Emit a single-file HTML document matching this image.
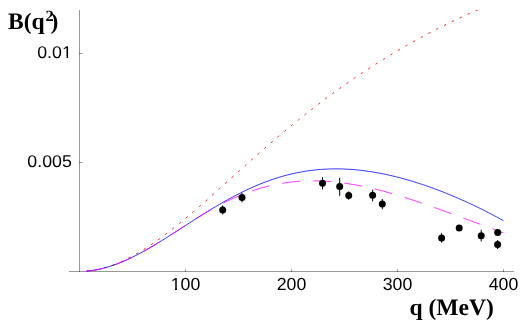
<!DOCTYPE html>
<html><head><meta charset="utf-8"><title>B(q^2)</title>
<style>
html,body{margin:0;padding:0;background:#fff;}
#w{width:526px;height:327px;overflow:hidden;will-change:transform;}
svg{display:block;}
.tk{font-family:"Liberation Sans",sans-serif;font-size:17px;fill:#000;text-rendering:geometricPrecision;}
.lb{font-family:"Liberation Serif",serif;font-weight:bold;font-size:23.6px;fill:#000;text-rendering:geometricPrecision;}
</style></head><body>
<div id="w"><svg width="526" height="327" viewBox="0 0 526 327">
<defs><clipPath id="cp"><rect x="60" y="10" width="460" height="270"/></clipPath></defs>
<rect width="526" height="327" fill="#fff"/>
<g stroke="#000" stroke-opacity="0.4" stroke-width="1">
<line x1="69" y1="271.5" x2="514" y2="271.5"/>
<line x1="79.5" y1="10" x2="79.5" y2="272"/>
<line x1="185.5" y1="272" x2="185.5" y2="269.15"/>
<line x1="291.5" y1="272" x2="291.5" y2="269.15"/>
<line x1="397.5" y1="272" x2="397.5" y2="269.15"/>
<line x1="503.5" y1="272" x2="503.5" y2="269.15"/>
<line x1="79" y1="162.5" x2="82.6" y2="162.5"/>
<line x1="79" y1="53.5" x2="82.6" y2="53.5"/>
</g>
<text transform="translate(185.5 290.4) scale(1.012 1)" text-anchor="middle" class="tk" style="font-size:17.5px">100</text>
<text transform="translate(291.5 290.4) scale(1.012 1)" text-anchor="middle" class="tk" style="font-size:17.5px">200</text>
<text transform="translate(397.5 290.4) scale(1.012 1)" text-anchor="middle" class="tk" style="font-size:17.5px">300</text>
<text transform="translate(503.5 290.4) scale(1.012 1)" text-anchor="middle" class="tk" style="font-size:17.5px">400</text>
<text transform="translate(71.8 167.2) scale(1.045 1)" text-anchor="end" class="tk">0.005</text>
<text transform="translate(71.8 58.2) scale(1.045 1)" text-anchor="end" class="tk">0.01</text>
<rect x="169.00" y="288" width="6.00" height="2" fill="#fff"/><rect x="177.00" y="288" width="4.00" height="2" fill="#fff"/>
<rect x="60.00" y="56" width="6.48" height="2" fill="#fff"/><rect x="68.04" y="56" width="3.96" height="2" fill="#fff"/>

<path d="M86.0 271.15L88.8 270.88L91.7 270.52L94.5 270.07L97.3 269.53L100.2 268.90L103.0 268.19L105.8 267.39L108.7 266.50L111.5 265.54L114.3 264.49L117.2 263.37L120.0 262.17L122.8 260.90L125.7 259.56L128.5 258.14L131.4 256.66L134.2 255.12L137.0 253.51L139.9 251.84L142.7 250.11L145.5 248.33L148.4 246.49L151.2 244.60L154.0 242.65L156.9 240.66L159.7 238.63L162.5 236.55L165.4 234.43L168.2 232.27L171.0 230.07L173.9 227.84L176.7 225.57L179.5 223.28L182.4 220.95L185.2 218.60L188.0 216.22L190.9 213.82L193.7 211.39L196.5 208.95L199.4 206.49L202.2 204.01L205.1 201.52L207.9 199.01L210.7 196.49L213.6 193.97L216.4 191.43L219.2 188.89L222.1 186.35L224.9 183.80L227.7 181.24L230.6 178.69L233.4 176.14L236.2 173.59L239.1 171.04L241.9 168.49L244.7 165.95L247.6 163.42L250.4 160.89L253.2 158.37L256.1 155.86L258.9 153.35L261.7 150.86L264.6 148.38L267.4 145.92L270.2 143.46L273.1 141.02L275.9 138.59L278.7 136.17L281.6 133.78L284.4 131.39L287.3 129.02L290.1 126.67L292.9 124.34L295.8 122.02L298.6 119.72L301.4 117.44L304.3 115.17L307.1 112.93L309.9 110.70L312.8 108.49L315.6 106.29L318.4 104.12L321.3 101.97L324.1 99.83L326.9 97.71L329.8 95.61L332.6 93.53L335.4 91.47L338.3 89.43L341.1 87.41L343.9 85.40L346.8 83.42L349.6 81.45L352.4 79.50L355.3 77.56L358.1 75.65L360.9 73.75L363.8 71.87L366.6 70.01L369.5 68.17L372.3 66.34L375.1 64.53L378.0 62.74L380.8 60.96L383.6 59.20L386.5 57.46L389.3 55.73L392.1 54.02L395.0 52.32L397.8 50.64L400.6 48.98L403.5 47.33L406.3 45.70L409.1 44.09L412.0 42.48L414.8 40.90L417.6 39.33L420.5 37.78L423.3 36.24L426.1 34.71L429.0 33.21L431.8 31.71L434.6 30.24L437.5 28.78L440.3 27.33L443.2 25.91L446.0 24.49L448.8 23.10L451.7 21.72L454.5 20.36L457.3 19.02L460.2 17.69L463.0 16.38L465.8 15.09L468.7 13.82L471.5 12.57L474.3 11.34L477.2 10.13L480.0 8.94" fill="none" stroke="#f00" stroke-width="0.9" stroke-dasharray="2.3 6.44" stroke-dashoffset="-1.06" clip-path="url(#cp)"/>
<path d="M86.0 271.16L89.0 270.88L92.0 270.51L95.0 270.04L98.0 269.48L101.0 268.82L104.0 268.08L107.0 267.24L110.0 266.33L113.0 265.33L116.0 264.25L119.0 263.10L122.0 261.88L125.0 260.59L128.1 259.23L131.1 257.82L134.1 256.34L137.1 254.81L140.1 253.23L143.1 251.61L146.1 249.93L149.1 248.22L152.1 246.47L155.1 244.69L158.1 242.87L161.1 241.03L164.1 239.17L167.1 237.29L170.1 235.38L173.1 233.47L176.1 231.55L179.1 229.61L182.1 227.68L185.1 225.74L188.1 223.80L191.1 221.87L194.1 219.95L197.1 218.04L200.1 216.13L203.1 214.25L206.1 212.38L209.1 210.53L212.2 208.71L215.2 206.90L218.2 205.13L221.2 203.38L224.2 201.66L227.2 199.98L230.2 198.33L233.2 196.71L236.2 195.14L239.2 193.60L242.2 192.10L245.2 190.64L248.2 189.22L251.2 187.85L254.2 186.52L257.2 185.24L260.2 184.00L263.2 182.81L266.2 181.66L269.2 180.57L272.2 179.52L275.2 178.52L278.2 177.57L281.2 176.67L284.2 175.82L287.2 175.02L290.2 174.27L293.2 173.57L296.3 172.92L299.3 172.32L302.3 171.77L305.3 171.27L308.3 170.81L311.3 170.41L314.3 170.05L317.3 169.74L320.3 169.48L323.3 169.27L326.3 169.10L329.3 168.98L332.3 168.91L335.3 168.87L338.3 168.89L341.3 168.94L344.3 169.04L347.3 169.19L350.3 169.37L353.3 169.59L356.3 169.86L359.3 170.16L362.3 170.50L365.3 170.88L368.3 171.30L371.3 171.76L374.3 172.25L377.3 172.77L380.4 173.33L383.4 173.93L386.4 174.56L389.4 175.22L392.4 175.91L395.4 176.64L398.4 177.39L401.4 178.18L404.4 178.99L407.4 179.84L410.4 180.72L413.4 181.62L416.4 182.55L419.4 183.51L422.4 184.50L425.4 185.51L428.4 186.56L431.4 187.62L434.4 188.72L437.4 189.84L440.4 190.99L443.4 192.16L446.4 193.36L449.4 194.58L452.4 195.83L455.4 197.10L458.4 198.40L461.4 199.72L464.5 201.06L467.5 202.44L470.5 203.83L473.5 205.25L476.5 206.69L479.5 208.16L482.5 209.65L485.5 211.16L488.5 212.70L491.5 214.25L494.5 215.83L497.5 217.44L500.5 219.06L503.5 220.70" fill="none" stroke="#00f" stroke-width="0.8"/>
<path d="M86.0 271.16L89.0 270.88L92.0 270.51L95.0 270.04L98.0 269.48L101.0 268.82L104.0 268.08L107.0 267.24L110.0 266.33L113.0 265.33L116.0 264.25L119.0 263.10L122.0 261.88L125.0 260.59L128.1 259.23L131.1 257.82L134.1 256.34L137.1 254.81L140.1 253.23L143.1 251.61L146.1 249.93L149.1 248.22L152.1 246.47L155.1 244.69L158.1 242.87L161.1 241.03L164.1 239.17L167.1 237.29L170.1 235.38L173.1 233.47L176.1 231.55L179.1 229.61L182.1 227.68L185.1 225.74L188.1 223.80L191.1 221.87L194.1 219.95L197.1 218.03L200.1 216.12L203.1 214.23L206.1 212.39L209.1 210.63L212.2 208.93L215.2 207.31L218.2 205.74L221.2 204.18L224.2 202.66L227.2 201.19L230.2 199.77L233.2 198.39L236.2 197.06L239.2 195.79L242.2 194.56L245.2 193.39L248.2 192.27L251.2 191.20L254.2 190.19L257.2 189.23L260.2 188.32L263.2 187.47L266.2 186.67L269.2 185.93L272.2 185.24L275.2 184.60L278.2 184.01L281.2 183.47L284.2 182.99L287.2 182.56L290.2 182.18L293.2 181.85L296.3 181.56L299.3 181.33L302.3 181.14L305.3 181.01L308.3 180.91L311.3 180.87L314.3 180.86L317.3 180.90L320.3 180.99L323.3 181.12L326.3 181.28L329.3 181.49L332.3 181.74L335.3 182.03L338.3 182.35L341.3 182.72L344.3 183.11L347.3 183.55L350.3 184.02L353.3 184.52L356.3 185.05L359.3 185.62L362.3 186.22L365.3 186.85L368.3 187.50L371.3 188.19L374.3 188.90L377.3 189.65L380.4 190.41L383.4 191.20L386.4 192.02L389.4 192.86L392.4 193.72L395.4 194.60L398.4 195.50L401.4 196.42L404.4 197.36L407.4 198.32L410.4 199.29L413.4 200.28L416.4 201.28L419.4 202.29L422.4 203.32L425.4 204.36L428.4 205.41L431.4 206.47L434.4 207.53L437.4 208.60L440.4 209.68L443.4 210.77L446.4 211.86L449.4 212.95L452.4 214.04L455.4 215.14L458.4 216.24L461.4 217.34L464.5 218.44L467.5 219.54L470.5 220.64L473.5 221.75L476.5 222.85L479.5 223.96L482.5 225.07L485.5 226.18L488.5 227.29L491.5 228.42L494.5 229.55L497.5 230.70L500.5 231.86L503.5 233.03" fill="none" stroke="#f0f" stroke-width="0.8" stroke-dasharray="18.2 12.9" stroke-dashoffset="0.7"/>
<g fill="#000">
<line x1="222.7" y1="205.4" x2="222.7" y2="214.5" stroke="#000" stroke-width="1"/><circle cx="222.7" cy="210.0" r="3.5"/>
<line x1="242.0" y1="192.8" x2="242.0" y2="202.3" stroke="#000" stroke-width="1"/><circle cx="242.0" cy="197.6" r="3.5"/>
<line x1="322.5" y1="177.2" x2="322.5" y2="189.3" stroke="#000" stroke-width="1"/><circle cx="322.5" cy="183.2" r="3.5"/>
<line x1="339.7" y1="177.8" x2="339.7" y2="195.8" stroke="#000" stroke-width="1"/><circle cx="339.7" cy="186.6" r="3.5"/>
<line x1="348.7" y1="191.4" x2="348.7" y2="199.8" stroke="#000" stroke-width="1"/><circle cx="348.7" cy="195.6" r="3.5"/>
<line x1="372.6" y1="189.6" x2="372.6" y2="201.4" stroke="#000" stroke-width="1"/><circle cx="372.6" cy="195.3" r="3.5"/>
<line x1="382.3" y1="199.0" x2="382.3" y2="209.2" stroke="#000" stroke-width="1"/><circle cx="382.3" cy="203.9" r="3.5"/>
<line x1="441.6" y1="233.2" x2="441.6" y2="242.6" stroke="#000" stroke-width="1"/><circle cx="441.6" cy="238.0" r="3.5"/>
<circle cx="459.2" cy="228.1" r="3.5"/>
<line x1="481.2" y1="229.8" x2="481.2" y2="241.5" stroke="#000" stroke-width="1"/><circle cx="481.2" cy="235.7" r="3.5"/>
<circle cx="497.7" cy="232.4" r="3.5"/>
<line x1="497.6" y1="240.0" x2="497.6" y2="249.0" stroke="#000" stroke-width="1"/><circle cx="497.6" cy="244.6" r="3.5"/>
</g>
<text x="8" y="28.6" class="lb">B(q</text><text transform="translate(45.5 20.8) scale(1.06 1)" class="lb" style="font-size:15.5px">2</text><text x="50.5" y="28.6" class="lb">)</text>
<text x="409.6" y="315.2" class="lb">q</text><text x="428.4" y="315.2" class="lb">(MeV)</text>
</svg></div>
</body></html>
